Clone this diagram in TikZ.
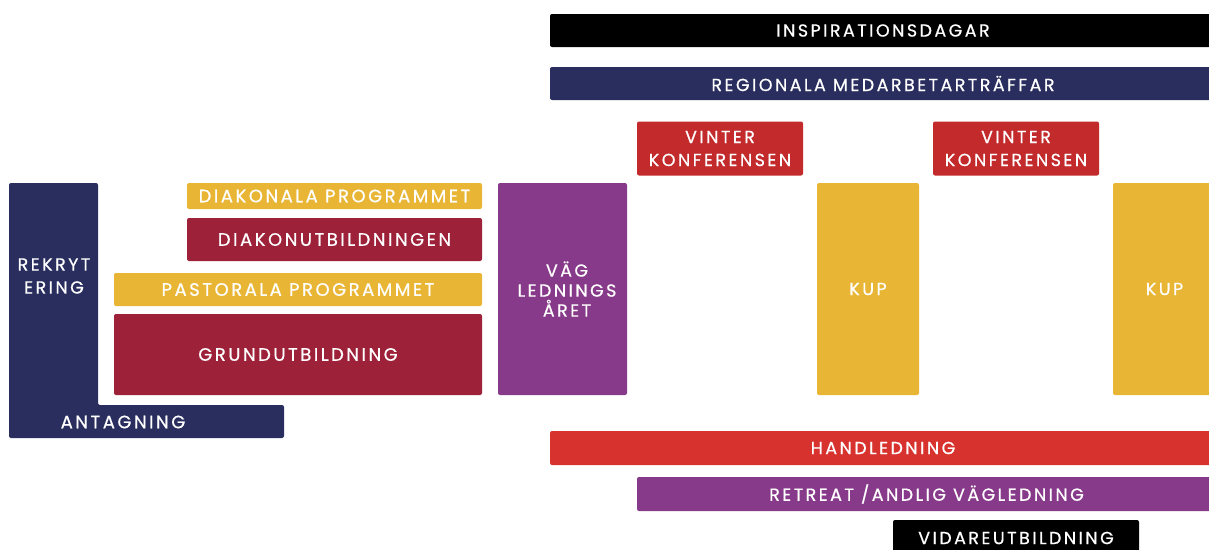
\documentclass[tikz,border=0pt]{standalone}
\usepackage{fontspec}
\newfontfamily\lab[LetterSpace=14,FakeBold=0.6]{Poppins}
\definecolor{navy}{HTML}{2A2E5E}
\definecolor{crimson}{HTML}{9C2139}
\definecolor{gold}{HTML}{E9B535}
\definecolor{purp}{HTML}{883A8A}
\definecolor{vred}{HTML}{C22A2C}
\definecolor{hred}{HTML}{D8322E}
\begin{document}
\begin{tikzpicture}[x=1pt,y=-1pt,
  box/.style={rectangle, rounded corners=2pt, inner sep=0pt, text=white,
    font=\lab\fontsize{17.5}{23}\selectfont, align=center},
  lbox/.style={box, font=\lab\fontsize{18}{23}\selectfont},
  lbl/.style={inner sep=0pt, text=white, font=\lab\fontsize{17.5}{23}\selectfont, align=center}]
\useasboundingbox (0,0) rectangle (1209,549);
\clip (0,0) rectangle (1209,549);
% L-shape REKRYTERING / ANTAGNING
\fill[navy, rounded corners=2pt] (9,183) -- (98,183) -- (98,405) -- (284,405) -- (284,438) -- (9,438) -- cycle;
\node[lbl] (rekryt) at (54,276) {REKRYT\\ERING};
\node[lbl, font=\lab\fontsize{18}{23}\selectfont] (antag) at (123,422) {ANTAGNING};
% left column
\node[lbox, fill=gold, minimum width=295pt, minimum height=26pt] (diakonala) at (334.5,196) {DIAKONALA PROGRAMMET};
\node[lbox, fill=crimson, minimum width=295pt, minimum height=43pt] (diakonutb) at (334.5,239.5) {DIAKONUTBILDNINGEN};
\node[lbox, fill=gold, minimum width=368pt, minimum height=33pt] (pastorala) at (298,289.5) {PASTORALA PROGRAMMET};
\node[lbox, fill=crimson, minimum width=368pt, minimum height=81pt] (grund) at (298,354.5) {GRUNDUTBILDNING};
% middle
\node[box, fill=purp, minimum width=129pt, minimum height=212pt] (vag) at (562.5,289) {};
\node[lbl, font=\lab\fontsize{17.5}{20}\selectfont] (vagtext) at (567,289) {VÄG\\LEDNINGS\\ÅRET};
\node[box, fill=black, minimum width=666pt, minimum height=33pt] (insp) at (883,30.5) {INSPIRATIONSDAGAR};
\node[box, fill=navy, minimum width=666pt, minimum height=33pt] (regional) at (883,83.5) {REGIONALA MEDARBETARTRÄFFAR};
\node[box, fill=vred, minimum width=166pt, minimum height=54pt] (vinter1) at (720,148.5) {VINTER\\KONFERENSEN};
\node[box, fill=vred, minimum width=166pt, minimum height=54pt] (vinter2) at (1016,148.5) {VINTER\\KONFERENSEN};
\node[box, fill=gold, minimum width=102pt, minimum height=212pt] (kup1) at (868,289) {KUP};
\node[box, fill=gold, minimum width=103pt, minimum height=212pt] (kup2) at (1164.5,289) {KUP};
\node[box, fill=hred, minimum width=666pt, minimum height=34pt] (handled) at (883,448) {HANDLEDNING};
\node[box, fill=purp, minimum width=579pt, minimum height=34pt] (retreat) at (926.5,494) {RETREAT /ANDLIG VÄGLEDNING};
\node[box, fill=black, minimum width=246pt, minimum height=36pt] (vidare) at (1016,538) {VIDAREUTBILDNING};
\end{tikzpicture}
\end{document}
